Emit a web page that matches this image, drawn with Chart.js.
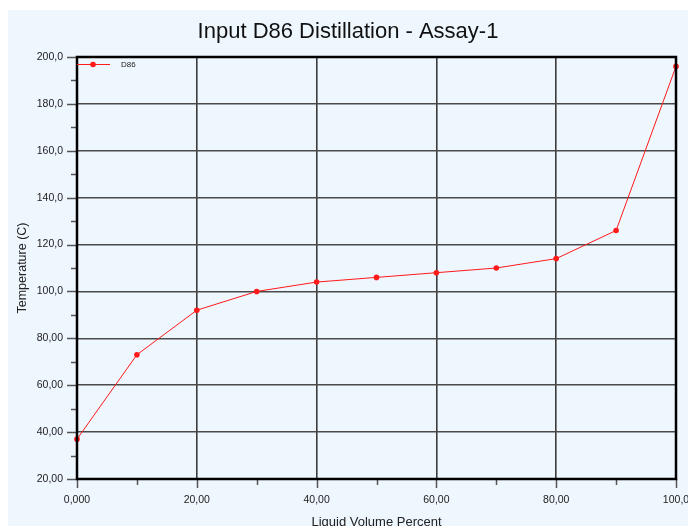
<!DOCTYPE html>
<html>
<head>
<meta charset="utf-8">
<script src="https://cdn.jsdelivr.net/npm/chart.js@4.4.1/dist/chart.umd.min.js"></script>
<style>
  html, body { margin: 0; padding: 0; background: #ffffff; }
  #wrap { position: relative; width: 688px; height: 526px; }
  canvas { display: block; }
</style>
</head>
<body>
<div id="wrap"><canvas id="c" width="688" height="526"></canvas></div>
<script>
// Distillation curve: liquid volume percent vs temperature
const volumePercent = [0, 10, 20, 30, 40, 50, 60, 70, 80, 90, 100];
const temperatureC = [37, 73, 92, 100, 104, 106, 108, 110, 114, 126, 196];

// Axis tick labels (major ticks only)
const xTickValues = [0, 20, 40, 60, 80, 100];
const xTickLabels = ['0,000', '20,00', '40,00', '60,00', '80,00', '100,0'];
const yTickValues = [20, 40, 60, 80, 100, 120, 140, 160, 180, 200];
const yTickLabels = ['20,00', '40,00', '60,00', '80,00', '100,0', '120,0', '140,0', '160,0', '180,0', '200,0'];

const FONT = "'Liberation Sans', Arial, sans-serif";
const PANEL = '#eef6fe';
const RED = '#ff1a1a';

// Light panel behind the chart, frame, tick marks and inline legend
const decor = {
  id: 'decor',
  beforeDraw(chart) {
    const ctx = chart.ctx;
    ctx.save();
    ctx.fillStyle = PANEL;
    ctx.fillRect(8, 10, chart.width - 8, chart.height - 10);
    ctx.restore();
  },
  afterDatasetsDraw(chart) {
    const ctx = chart.ctx;
    const a = chart.chartArea;
    const xs = chart.scales.x, ys = chart.scales.y;
    ctx.save();
    // tick marks, major and minor, outside the frame
    ctx.strokeStyle = '#555';
    ctx.lineWidth = 1.5;
    for (let v = 0; v <= 100; v += 10) {
      const px = Math.round(xs.getPixelForValue(v)) + 0.5;
      const len = v % 20 === 0 ? 9 : 6;
      ctx.beginPath();
      ctx.moveTo(px, a.bottom);
      ctx.lineTo(px, a.bottom + len);
      ctx.stroke();
    }
    for (let v = 20; v <= 200; v += 10) {
      const py = Math.round(ys.getPixelForValue(v)) + 0.5;
      const len = v % 20 === 0 ? 10 : 6;
      ctx.beginPath();
      ctx.moveTo(a.left, py);
      ctx.lineTo(a.left - len, py);
      ctx.stroke();
    }
    // frame
    ctx.strokeStyle = '#000';
    ctx.lineWidth = 2.5;
    ctx.strokeRect(a.left, a.top, a.right - a.left, a.bottom - a.top);

    // inline legend
    const ds = chart.data.datasets[0];
    const ly = a.top + 7.5;
    ctx.strokeStyle = ds.borderColor;
    ctx.lineWidth = 1;
    ctx.beginPath();
    ctx.moveTo(a.left, ly);
    ctx.lineTo(a.left + 33, ly);
    ctx.stroke();
    ctx.fillStyle = ds.pointBackgroundColor;
    ctx.beginPath();
    ctx.arc(a.left + 16, ly, 2.8, 0, Math.PI * 2);
    ctx.fill();
    ctx.fillStyle = '#222';
    ctx.font = '8px ' + FONT;
    ctx.textBaseline = 'middle';
    ctx.textAlign = 'left';
    ctx.fillText(ds.label, a.left + 44, ly);
    ctx.restore();
  }
};

new Chart(document.getElementById('c'), {
  type: 'line',
  data: {
    datasets: [{
      label: 'D86',
      data: volumePercent.map((v, i) => ({ x: v, y: temperatureC[i] })),
      borderColor: RED,
      backgroundColor: RED,
      pointBackgroundColor: RED,
      pointBorderColor: RED,
      borderWidth: 1,
      pointRadius: 2.8,
      pointBorderWidth: 0,
      tension: 0,
      clip: false
    }]
  },
  options: {
    responsive: false,
    animation: false,
    events: [],
    layout: { padding: { left: 20, top: 0, right: 12, bottom: -4 } },
    plugins: {
      legend: { display: false },
      tooltip: { enabled: false },
      title: {
        display: true,
        text: 'Input D86 Distillation - Assay-1',
        color: '#111',
        font: { family: FONT, size: 22, weight: 'normal', lineHeight: 1.2 },
        padding: { top: 19, bottom: 11.6 }
      }
    },
    scales: {
      x: {
        type: 'linear',
        min: 0, max: 100,
        afterBuildTicks(scale) { scale.ticks = xTickValues.map(v => ({ value: v })); },
        afterFit(scale) { scale.height = 51; scale.paddingLeft = 0; scale.paddingRight = 0; },
        ticks: {
          padding: 15,
          color: '#222',
          font: { family: FONT, size: 10.5 },
          maxRotation: 0,
          autoSkip: false,
          callback: (v) => xTickLabels[xTickValues.indexOf(v)]
        },
        grid: { color: '#3c3c3c', lineWidth: 1.6, drawTicks: false },
        border: { display: false },
        title: {
          display: true,
          text: 'Liquid Volume Percent',
          color: '#222',
          font: { family: FONT, size: 13 },
          padding: { top: 0, bottom: 0 }
        }
      },
      y: {
        type: 'linear',
        min: 20, max: 200,
        afterBuildTicks(scale) { scale.ticks = yTickValues.map(v => ({ value: v })); },
        afterFit(scale) { scale.width = 57; scale.paddingTop = 0; scale.paddingBottom = 0; },
        ticks: {
          padding: 14,
          color: '#222',
          font: { family: FONT, size: 10.5 },
          autoSkip: false,
          callback: (v) => yTickLabels[yTickValues.indexOf(v)]
        },
        grid: { color: '#4a4a4a', lineWidth: 1.6, drawTicks: false },
        border: { display: false },
        title: {
          display: true,
          text: 'Temperature (C)',
          color: '#222',
          font: { family: FONT, size: 12.5 },
          padding: { top: -5, bottom: 0 }
        }
      }
    }
  },
  plugins: [decor]
});
</script>
</body>
</html>
